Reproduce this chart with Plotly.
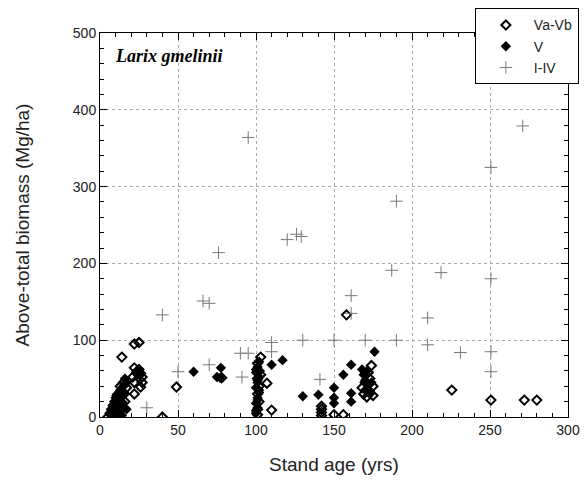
import plotly.graph_objects as go

# Va-Vb (open diamonds)
va_x = [5, 7, 8, 9, 10, 11, 12, 13, 14, 15, 15, 16, 17, 14, 11, 13,
        22, 25, 22, 24, 26, 25, 22, 27, 22, 26, 21, 27,
        40, 49,
        103, 101, 102, 101, 102, 101, 102, 101, 101, 103, 107, 110, 78,
        142, 142, 142, 142, 150, 156, 158,
        174, 169, 172, 175, 170, 173, 168, 171, 175, 172,
        225.5, 250.6, 272, 280]
va_y = [0, 3, 8, 2, 12, 5, 18, 25, 10, 32, 45, 20, 38, 78, 28, 40,
        95, 97, 64, 60, 57, 62, 45, 45, 30, 39, 52, 52,
        0, 39,
        78, 70, 60, 50, 40, 30, 20, 10, 3, 55, 44, 9, 51,
        2, 6, 10, 14, 3, 3, 133,
        67, 30, 35, 40, 45, 50, 38, 26, 28, 58,
        35, 22, 22, 22]

# V (filled diamonds)
v_x = [6, 7, 8, 8, 9, 9, 10, 10, 11, 11, 12, 12, 13, 13, 14, 14, 15, 15, 16, 16, 17, 17, 10, 12,
       23, 24, 25, 26,
       60, 77.5, 75, 77,
       100, 101, 100, 101, 102, 100, 101, 102, 100, 101, 102, 100, 101, 102, 101, 100,
       110, 117,
       130, 140, 150, 150, 150, 156, 161, 161, 161, 176,
       169, 170, 172, 170, 173, 168, 171, 174]
v_y = [5, 10, 2, 15, 8, 20, 3, 25, 12, 30, 7, 22, 15, 35, 2, 28, 40, 18, 50, 30, 45, 10, 0, 0,
       58, 55, 60, 55,
       59, 64, 52, 51,
       5, 12, 18, 25, 32, 38, 45, 52, 58, 65, 72, 8, 22, 35, 48, 62,
       68, 74,
       27, 29, 38, 25, 18, 55, 68, 31, 20, 85,
       55, 48, 42, 35, 30, 62, 60, 45]

# I-IV (crosses)
c_x = [30, 40, 50, 66, 70, 70, 76, 90, 95, 91, 95, 110, 110, 120, 126, 129, 130, 141, 150,
       161, 161, 170, 187, 190, 190, 210, 210, 218.6, 231, 250.6, 250.6, 250.6, 250.6, 271]
c_y = [12, 133, 59, 151, 148, 68, 214, 83, 83, 52, 364, 97, 85, 231, 238, 235, 100, 49, 100,
       158, 135, 100, 191, 281, 100, 129, 94, 188, 84, 325, 180, 85, 59, 379]

x_ticks = [0, 50, 100, 150, 200, 250, 300]
y_ticks = [0, 100, 200, 300, 400, 500]

tick_font = dict(family="Liberation Sans Narrow, Arial Narrow, sans-serif", size=14, color="#222")

fig = go.Figure()
fig.add_trace(go.Scatter(x=va_x, y=va_y, mode="markers", name="Va-Vb",
                         marker=dict(symbol="diamond-open", size=7, color="black",
                                     line=dict(width=2, color="black"))))
fig.add_trace(go.Scatter(x=v_x, y=v_y, mode="markers", name="V",
                         marker=dict(symbol="diamond", size=8, color="black",
                                     line=dict(width=0))))
fig.add_trace(go.Scatter(x=c_x, y=c_y, mode="markers", name="I-IV",
                         marker=dict(symbol="cross-thin", size=9, color="#777",
                                     line=dict(width=1, color="#777"))))

axis_common = dict(showline=True, linecolor="black", linewidth=1, mirror="ticks",
                   ticks="inside", ticklen=7, tickcolor="black",
                   showgrid=True, gridcolor="#aaa", griddash="dot", gridwidth=1,
                   zeroline=False, tickfont=tick_font)

fig.update_xaxes(range=[0, 300], tickvals=x_ticks, **axis_common,
                 minor=dict(dtick=10, ticks="inside", ticklen=4, tickcolor="black", showgrid=False),
                 title=dict(text="Stand age (yrs)", font=dict(family="Liberation Sans, Arial", size=19, color="#222"),
                            standoff=20))
fig.update_yaxes(range=[0, 500], tickvals=y_ticks, **axis_common,
                 minor=dict(dtick=20, ticks="inside", ticklen=4, tickcolor="black", showgrid=False),
                 title=dict(text="Above-total biomass (Mg/ha)", font=dict(family="Liberation Sans, Arial", size=19, color="#222"),
                            standoff=38))

fig.add_annotation(text="<b><i>Larix gmelinii</i></b>", xref="paper", yref="paper",
                   x=0.027, y=0.94, xanchor="left", yanchor="middle", showarrow=False,
                   font=dict(family="Liberation Serif, Times New Roman, serif", size=18, color="black"))

fig.update_layout(
    width=584, height=492,
    margin=dict(l=100, r=16, t=33, b=75, autoexpand=False),
    plot_bgcolor="white", paper_bgcolor="white",
    showlegend=True,
    legend=dict(x=0.801, y=1.064, xanchor="left", yanchor="top",
                bgcolor="white", bordercolor="black", borderwidth=1,
                font=dict(family="Liberation Sans Narrow, Arial Narrow, sans-serif", size=14, color="#222"),
                itemsizing="trace", tracegroupgap=0, indentation=2, itemwidth=46),
)

fig.write_html("out.html")
